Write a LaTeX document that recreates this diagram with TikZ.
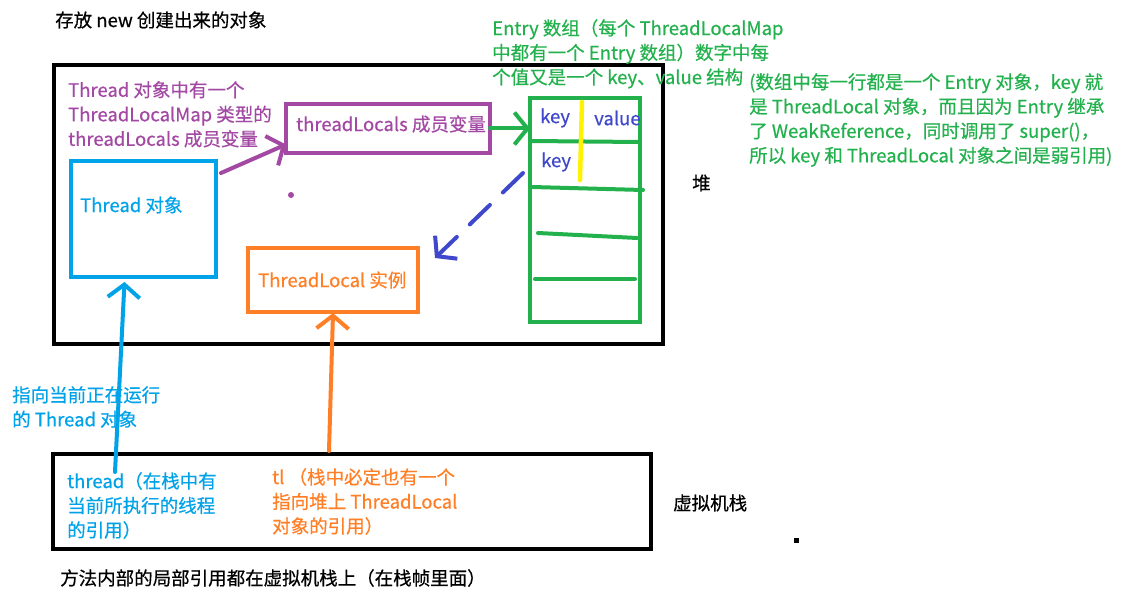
\documentclass[tikz,border=0pt]{standalone}
\usepackage{fontspec}
\setmainfont{Noto Sans CJK SC}[FakeBold=0.5]
\usetikzlibrary{arrows.meta,calc}
\definecolor{tblue}{HTML}{00A2E8}
\definecolor{purp}{HTML}{A349A4}
\definecolor{orng}{HTML}{FF7F27}
\definecolor{grn}{HTML}{22B14C}
\definecolor{indig}{HTML}{3F48CC}
\definecolor{yel}{HTML}{FFF200}
\begin{document}
\begin{tikzpicture}[x=1pt,y=-1pt,
  txt/.style={inner sep=0pt, anchor=west, font=\fontsize{18.5}{24.5}\selectfont},
  mtxt/.style={inner sep=0pt, anchor=north west, align=left, font=\fontsize{18.5}{24.5}\selectfont},
  box/.style={draw, line width=4pt, inner sep=0pt, outer sep=0pt, anchor=north west},
  bigbox/.style={box, line width=4.5pt},
  hand/.style={line width=4pt, line cap=round, line join=round},
  barb/.style={hand, -{Straight Barb[length=13pt,width=32pt]}},
  rowline/.style={grn, hand}]
\useasboundingbox[fill=white] (0,0) rectangle (1130,604);

% heap
\node[txt] (heaptitle) at (55,20) {存放 new 创建出来的对象};
\node[bigbox, minimum width=609pt, minimum height=279pt] (heap) at (54,65) {};
\node[txt] (heaplabel) at (692,183) {堆};

% thread object
\node[box, tblue, minimum width=145pt, minimum height=116pt] (thread) at (71,161) {};
\node[txt, tblue] (threadlabel) at (80,205) {Thread 对象};

% threadLocals
\node[mtxt, purp] (tlnote) at (68,81) {Thread 对象中有一个\\ThreadLocalMap 类型的\\threadLocals 成员变量};
\node[box, purp, minimum width=204pt, minimum height=49pt] (tlvar) at (286,104) {};
\node[txt, purp] (tlvarlabel) at (296,124) {threadLocals 成员变量};
\fill[purp] (291,195) circle (3pt);

% entry table
\node[box, grn, minimum width=110pt, minimum height=224pt] (entry) at (530,98) {};
\draw[rowline] (530,141) -- (640,142);
\draw[rowline] (532,187) -- (643,190);
\draw[rowline] (538,233) -- (637,238);
\draw[rowline] (535,279) -- (635,279);
\draw[yel, hand, line width=4.5pt] (582,102) -- (580,180);
\node[txt, indig] (key1) at (540,118) {key};
\node[txt, indig] (val1) at (594,118) {value};
\node[txt, indig] (key2) at (541,162) {key};

% ThreadLocal instance
\node[box, orng, minimum width=170pt, minimum height=64pt] (tlinst) at (248,248) {};
\node[txt, orng] (tlinstlabel) at (258,280) {ThreadLocal 实例};

% notes
\node[mtxt, grn] (entrynote) at (492,19) {Entry 数组（每个 ThreadLocalMap\\中都有一个 Entry 数组）数字中每\\个值又是一个 key、value 结构};
\node[mtxt, grn] (weaknote) at (749,73) {(数组中每一行都是一个 Entry 对象，key 就\\是 ThreadLocal 对象，而且因为 Entry 继承\\了 WeakReference，同时调用了 super()，\\所以 key 和 ThreadLocal 对象之间是弱引用)};
\node[mtxt, tblue] (pointnote) at (12,386) {指向当前正在运行\\的 Thread 对象};

% stack
\node[bigbox, minimum width=598pt, minimum height=95pt] (stack) at (53,454) {};
\node[mtxt, tblue] (threadref) at (67,472) {thread（在栈中有\\当前所执行的线程\\的引用）};
\node[mtxt, orng] (tlref) at (272,468) {tl （栈中必定也有一个\\指向堆上 ThreadLocal\\对象的引用）};
\node[txt] (stacklabel) at (673,503) {虚拟机栈};
\node[txt] (stacknote) at (60,578) {方法内部的局部引用都在虚拟机栈上（在栈帧里面）};
\fill (794,538) rectangle (799,543);

% connectors
\draw[barb, purp] ([shift={(5pt,-12pt)}]thread.north east) -- ([yshift=-16pt]tlvar.west);
\draw[barb, grn] (tlvar.east) -- (tlvar.east -| entry.west);
\draw[barb, indig, dash pattern=on 28pt off 18pt] ([shift={(-7pt,-75pt)}]entry.north west) -- ([shift={(17pt,-10pt)}]tlinst.north east);
\draw[barb, tblue] ([xshift=48pt]threadref.north west) -- ([shift={(-19pt,-5pt)}]thread.south);
\draw[barb, orng] ([shift={(-4pt,3pt)}]tlinst.south |- stack.north) -- ([yshift=-1pt]tlinst.south);
\end{tikzpicture}
\end{document}
